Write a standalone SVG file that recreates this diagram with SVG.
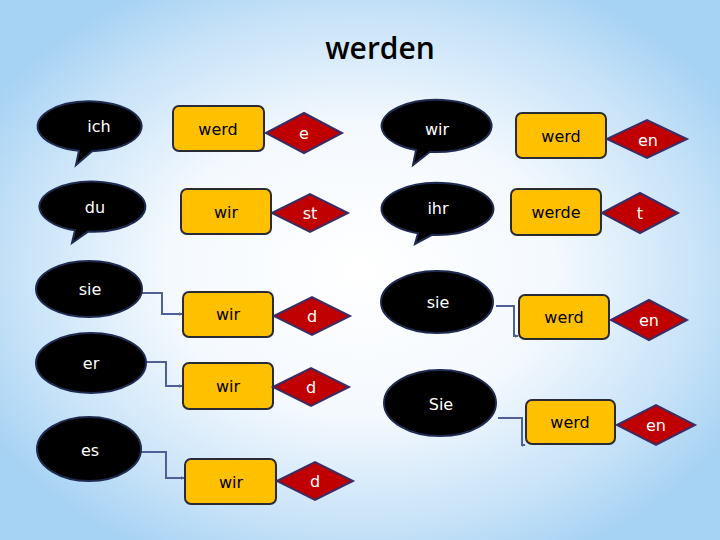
<svg xmlns="http://www.w3.org/2000/svg" width="720" height="540" viewBox="0 0 720 540">
<defs>
<radialGradient id="bg" cx="50%" cy="50%" r="60%">
<stop offset="0" stop-color="#ffffff"/>
<stop offset="0.45" stop-color="#f4f9fe"/>
<stop offset="0.8" stop-color="#c6e2f8"/>
<stop offset="1" stop-color="#a6d2f3"/>
</radialGradient>
<marker id="arr" markerWidth="4" markerHeight="4" refX="3.5" refY="2" orient="auto" markerUnits="userSpaceOnUse">
<path d="M0,0 L4,2 L0,4 Z" fill="#4f5f97"/>
</marker>
<style>
.bub{fill:#000;stroke:#1f2a50;stroke-width:2}
.box{fill:#ffc000;stroke:#2a2a35;stroke-width:2}
.dia{fill:#c00000;stroke:#3b2c63;stroke-width:2}
.wt{fill:#fff;font-family:"DejaVu Sans",sans-serif;font-size:16px;text-anchor:middle}
.bt{fill:#000;font-family:"DejaVu Sans",sans-serif;font-size:16px;text-anchor:middle}
.con{fill:none;stroke:#4f5f97;stroke-width:2}
</style>
</defs>
<rect width="720" height="540" fill="url(#bg)"/>
<text x="380" y="59" font-family="'Open Sans',sans-serif" font-size="30" font-weight="600" text-anchor="middle" fill="#000">werden</text>

<g id="connectors">
<path class="con" d="M142,293 H162 V314 H182" marker-end="url(#arr)"/>
<path class="con" d="M146,362 H166 V386 H182" marker-end="url(#arr)"/>
<path class="con" d="M135,452 H166 V478 H184" marker-end="url(#arr)"/>
<path class="con" d="M496,306 H514 V336 H518" marker-end="url(#arr)"/>
<path class="con" d="M498,418 H522 V445 H525" marker-end="url(#arr)"/>
</g>

<g id="ich"><path class="bub" d="M79,150.8 A52 25 0 1 1 92,151.3 L76,165 Z"/><text class="wt" x="99" y="132">ich</text></g>
<g id="du"><path class="bub" d="M75,230.3 A53 25 0 1 1 88,231.6 L72,243 Z"/><text class="wt" x="95" y="213">du</text></g>
<g id="wir-p"><path class="bub" d="M416,150.1 A55 26 0 1 1 430,151.8 L413,165 Z"/><text class="wt" x="437" y="135">wir</text></g>
<g id="ihr"><path class="bub" d="M418,233.3 A56 26 0 1 1 432,234.8 L415,244 Z"/><text class="wt" x="438" y="214">ihr</text></g>
<g id="sie-l"><ellipse class="bub" cx="89" cy="289" rx="53" ry="28"/><text class="wt" x="90" y="295">sie</text></g>
<g id="er"><ellipse class="bub" cx="91" cy="363" rx="55" ry="30"/><text class="wt" x="91" y="369">er</text></g>
<g id="es"><ellipse class="bub" cx="89" cy="449" rx="52" ry="32"/><text class="wt" x="90" y="456">es</text></g>
<g id="sie-r"><ellipse class="bub" cx="437" cy="302" rx="56" ry="31"/><text class="wt" x="438" y="308">sie</text></g>
<g id="Sie"><ellipse class="bub" cx="440" cy="403" rx="56" ry="33"/><text class="wt" x="441" y="410">Sie</text></g>

<g id="b1"><rect class="box" x="173" y="106" width="91" height="45" rx="6"/><text class="bt" x="218" y="135">werd</text></g>
<g id="b2"><rect class="box" x="181" y="189" width="90" height="45" rx="6"/><text class="bt" x="226" y="218">wir</text></g>
<g id="b3"><rect class="box" x="183" y="292" width="90" height="45" rx="6"/><text class="bt" x="228" y="320">wir</text></g>
<g id="b4"><rect class="box" x="183" y="363" width="90" height="46" rx="6"/><text class="bt" x="228" y="392">wir</text></g>
<g id="b5"><rect class="box" x="185" y="459" width="91" height="45" rx="6"/><text class="bt" x="231" y="488">wir</text></g>
<g id="b6"><rect class="box" x="516" y="113" width="90" height="45" rx="6"/><text class="bt" x="561" y="142">werd</text></g>
<g id="b7"><rect class="box" x="511" y="189" width="90" height="46" rx="6"/><text class="bt" x="556" y="218">werde</text></g>
<g id="b8"><rect class="box" x="519" y="295" width="90" height="44" rx="6"/><text class="bt" x="564" y="323">werd</text></g>
<g id="b9"><rect class="box" x="526" y="400" width="89" height="44" rx="6"/><text class="bt" x="570" y="428">werd</text></g>

<g id="d1"><path class="dia" d="M266,133 L304,113 L342,133 L304,153 Z"/><text class="wt" x="304" y="139">e</text></g>
<g id="d2"><path class="dia" d="M272,213 L310,194 L348,213 L310,232 Z"/><text class="wt" x="310" y="219">st</text></g>
<g id="d3"><path class="dia" d="M274,316 L312,297 L350,316 L312,335 Z"/><text class="wt" x="312" y="322">d</text></g>
<g id="d4"><path class="dia" d="M273,387 L311,368 L349,387 L311,406 Z"/><text class="wt" x="311" y="393">d</text></g>
<g id="d5"><path class="dia" d="M277,481 L315,462 L353,481 L315,500 Z"/><text class="wt" x="315" y="487">d</text></g>
<g id="d6"><path class="dia" d="M607,139 L647,120 L687,139 L647,158 Z"/><text class="wt" x="648" y="146">en</text></g>
<g id="d7"><path class="dia" d="M602,213 L640,193 L678,213 L640,233 Z"/><text class="wt" x="640" y="219">t</text></g>
<g id="d8"><path class="dia" d="M611,320 L649,300 L687,320 L649,340 Z"/><text class="wt" x="649" y="326">en</text></g>
<g id="d9"><path class="dia" d="M617,425 L656,405 L695,425 L656,445 Z"/><text class="wt" x="656" y="431">en</text></g>
</svg>
